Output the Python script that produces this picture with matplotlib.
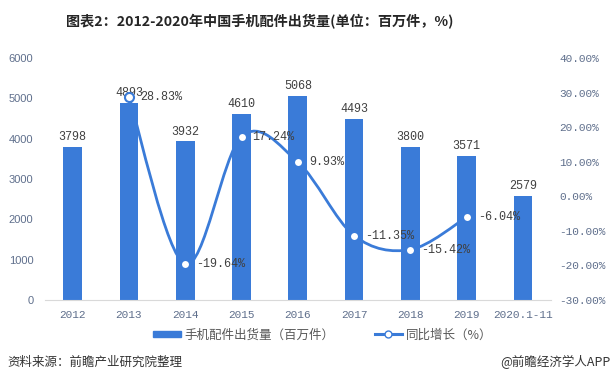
import numpy as np
import matplotlib
matplotlib.use("Agg")
import matplotlib.pyplot as plt
from matplotlib.path import Path
from matplotlib.patches import PathPatch
from matplotlib.lines import Line2D
from matplotlib.patches import Rectangle

plt.rcParams['font.family'] = ['Noto Sans CJK SC', 'DejaVu Sans']

# data
years = ["2012", "2013", "2014", "2015", "2016", "2017", "2018", "2019", "2020.1-11"]
shipments = [3798, 4893, 3932, 4610, 5068, 4493, 3800, 3571, 2579]
growth_idx = [1, 2, 3, 4, 5, 6, 7]
growth = [28.83, -19.64, 17.24, 9.93, -11.35, -15.42, -6.04]

blue = '#3a7bd8'
tick_col = '#5f6f8c'
text_col = '#404040'
mono = ['Liberation Mono', 'DejaVu Sans Mono']

fig = plt.figure(figsize=(6.15, 3.88), dpi=100)
ax = fig.add_axes([0.0724, 0.2268, 0.8236, 0.6237])
x = np.arange(len(years))

ax.bar(x, shipments, width=0.33, color=blue, zorder=2)
for xi, v in zip(x, shipments):
    ax.text(xi, v + 90, str(v), ha='center', va='bottom', fontsize=8.5,
            color=text_col, family=mono)

ax.set_xlim(-0.5, len(years) - 0.5)
ax.set_ylim(0, 6000)
ax.set_yticks(range(0, 6001, 1000))
ax.set_xticks(x)
ax.set_xticklabels(years, family=mono, fontsize=8, color=tick_col)
ax.tick_params(axis='y', length=0, labelsize=8, labelcolor=tick_col, pad=8)
ax.tick_params(axis='x', length=0, pad=7)
for lab in ax.get_yticklabels():
    lab.set_family(['Liberation Sans', 'DejaVu Sans'])
for s in ['top', 'left', 'right']:
    ax.spines[s].set_visible(False)
ax.spines['bottom'].set_color('#d9d9d9')

ax2 = ax.twinx()
ax2.set_ylim(-30, 40)
ax2.set_yticks(range(-30, 41, 10))
ax2.set_yticklabels(['%.2f%%' % t for t in range(-30, 41, 10)], family=mono,
                    fontsize=8, color=tick_col)
ax2.tick_params(axis='y', length=0, pad=6)
for s in ax2.spines.values():
    s.set_visible(False)

# smooth line (Catmull-Rom as cubic Bezier segments)
px = np.array(growth_idx, dtype=float)
py = np.array(growth, dtype=float)
n = len(px)
verts = [(px[0], py[0])]
codes = [Path.MOVETO]
for i in range(n - 1):
    p0 = (px[max(i - 1, 0)], py[max(i - 1, 0)])
    p1 = (px[i], py[i])
    p2 = (px[i + 1], py[i + 1])
    p3 = (px[min(i + 2, n - 1)], py[min(i + 2, n - 1)])
    c1 = (p1[0] + (p2[0] - p0[0]) / 6, p1[1] + (p2[1] - p0[1]) / 6)
    c2 = (p2[0] - (p3[0] - p1[0]) / 6, p2[1] - (p3[1] - p1[1]) / 6)
    verts += [c1, c2, p2]
    codes += [Path.CURVE4] * 3
ax2.add_patch(PathPatch(Path(verts, codes), facecolor='none', edgecolor=blue,
                        lw=2, zorder=3))
ax2.plot(px, py, 'o', ms=6.5, mfc='white', mec=blue, mew=1.5, zorder=4)
for xi, v in zip(px, py):
    ax2.annotate('%.2f%%' % v, (xi, v), xytext=(8, 0), textcoords='offset points',
                 ha='left', va='center', fontsize=8.5, color=text_col, family=mono)

fig.text(0.423, 0.943, '图表2：2012-2020年中国手机配件出货量(单位：百万件，%)',
         ha='center', va='center', fontsize=10.2, fontweight='bold', color='#262626')

handles = [Rectangle((0, 0), 1, 1, color=blue),
           Line2D([], [], color=blue, lw=2.2, marker='o', ms=5, mfc='white', mec=blue)]
fig.legend(handles, ['手机配件出货量（百万件）', '同比增长（%）'], loc='center',
           bbox_to_anchor=(0.525, 0.137), ncol=2, frameon=False, fontsize=9,
           labelcolor='#595959', handlelength=2.2, handleheight=0.45,
           columnspacing=3.2, handletextpad=0.3)

fig.text(0.012, 0.067, '资料来源：前瞻产业研究院整理', ha='left', va='center',
         fontsize=9, color='#333333')
fig.text(0.992, 0.067, '@前瞻经济学人APP', ha='right', va='center',
         fontsize=9, color='#333333')

fig.savefig('out.png', dpi=100)
